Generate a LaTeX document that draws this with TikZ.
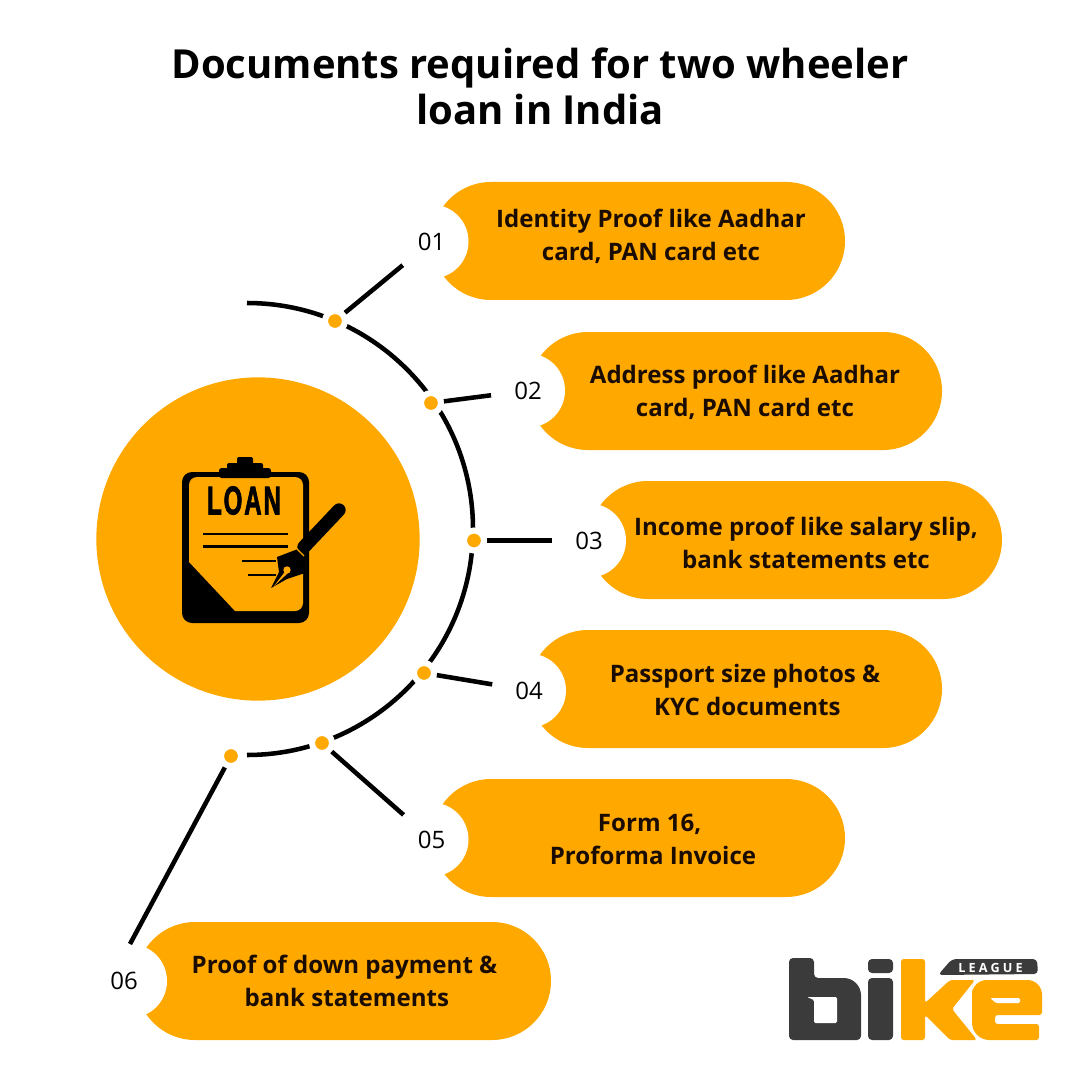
\documentclass[tikz,border=0pt]{standalone}
\usepackage{fontspec}
\setmainfont{Open Sans}
\newfontfamily\loanfont[LetterSpace=8,FakeBold=2.5]{Liberation Sans Bold}
\newfontfamily\leaguefont[LetterSpace=25]{Open Sans}
\usetikzlibrary{shapes.misc}
\definecolor{loanorange}{HTML}{FFA900}
\definecolor{loandark}{HTML}{1A0C00}
\definecolor{logodark}{HTML}{3B3B3B}
\tikzset{
	pill/.style={rounded rectangle,fill=loanorange,minimum height=88.5pt,inner sep=0pt,outer sep=0pt},
	notch/.style={circle,fill=white,minimum size=55.5pt,inner sep=0pt,font=\fontsize{18}{18}\selectfont},
	numtext/.style={inner sep=0pt,font=\fontsize{18}{18}\selectfont},
	pilltext/.style={align=center,text=loandark,font=\fontsize{18.05}{24.75}\selectfont\bfseries},
	dot/.style={circle,fill=loanorange,draw=white,line width=4.5pt,minimum size=15pt,inner sep=0pt},
	linkline/.style={line width=3.4pt,black}
}
\begin{document}
\begin{tikzpicture}[x=0.75pt,y=-0.75pt]
	\useasboundingbox (0,0) rectangle (1080,1080);
	\fill [white] (0,0) rectangle (1080,1080);
	% title
	\node [align=center,text=black,font=\fontsize{30}{34.5}\selectfont\bfseries] (title) at (540,86.5) {Documents required for two wheeler\\loan in India};
	% big circle and arc
	\node [circle,fill=loanorange,minimum size=242.5pt,inner sep=0pt] (hub) at (258,539) {};
	\draw [linkline] (247,303) arc [start angle=-90,end angle=90,radius=226];
	% dots
	\node [dot] (dot1) at (335,321) {};
	\node [dot] (dot2) at (431,403) {};
	\node [dot] (dot3) at (474,540.5) {};
	\node [dot] (dot4) at (424,673) {};
	\node [dot] (dot5) at (322,743) {};
	\node [dot] (dot6) at (231,756) {};
	% pills
	\node [pill,minimum width=309.75pt] (pill1) at (638.5,241) {};
	\node [pill,minimum width=309.75pt] (pill2) at (735.5,391) {};
	\node [pill,minimum width=309.75pt] (pill3) at (795.5,540) {};
	\node [pill,minimum width=309.75pt] (pill4) at (735.5,689) {};
	\node [pill,minimum width=309.75pt] (pill5) at (638.5,838) {};
	\node [pill,minimum width=311.25pt] (pill6) at (343.5,981) {};
	% number notches
	\node [notch] (num1) at (431.5,241.5) {01};
	\node [notch] (num2) at (528,390.5) {02};
	\node [notch] (num3) at (589,540.5) {03};
	\node [notch] (num4) at (529,690.5) {04};
	\node [notch] (num5) at (431.5,839.5) {05};
	\node [notch] (notch6) at (130,981) {};
	\node [numtext] (num6) at (124,981) {06};
	\coordinate (end6) at (130,944);
	% pill texts
	\node [pilltext] (text1) at (651,236) {Identity Proof like Aadhar\\card, PAN card etc};
	\node [pilltext] (text2) at (745,392) {Address proof like Aadhar\\card, PAN card etc};
	\node [pilltext] (text3) at (806,543) {Income proof like salary slip,\\bank statements etc};
	\node [pilltext] (text4) at (745,690) {Passport size photos \&\\\hspace*{3.5pt}KYC documents};
	\node [pilltext] (text5) at (653,839) {\hspace*{-5pt}Form 16,\\Proforma Invoice};
	\node [pilltext] (text6) at (344.5,981) {Proof of down payment \&\\\hspace*{3.5pt}bank statements};
	% connectors
	\draw [linkline] (dot1) -- (num1);
	\draw [linkline] (dot2) -- (num2);
	\draw [linkline] (dot3) -- (num3);
	\draw [linkline] (dot4) -- (num4);
	\draw [linkline] (dot5) -- (num5);
	\draw [linkline] (dot6) -- (end6);
	% clipboard
	\fill [black,rounded corners=7.5pt] (182,472) rectangle (309,623);
	\fill [loanorange,rounded corners=6pt] (189,562) [sharp corners] -- (189,530) [rounded corners=6pt] -- (189,477) -- (303,477) -- (303,611) [sharp corners] -- (235,611) -- cycle;
	\fill [black,rounded corners=1.5pt] (237,457) rectangle (253,466);
	\fill [black,rounded corners=1.5pt] (227,463) rectangle (263,472);
	\fill [black,rounded corners=2pt] (219,468) rectangle (271,478);
	\node [inner sep=0pt,xscale=0.6,font=\fontsize{30}{30}\selectfont\loanfont] (loan) at (244,500.5) {LOAN};
	\draw [black,line width=2.2pt] (203,534) -- (288,534);
	\draw [black,line width=2.2pt] (203,546.5) -- (288,546.5);
	\draw [black,line width=2pt] (242,561) -- (276,561);
	\draw [black,line width=2pt] (248,575) -- (276,575);
	% pen
	\draw [black,line width=10pt,line cap=round] (339,510) -- (304,547);
	\fill [black] (277,557) -- (298,549) -- (305,556) -- (305,573) -- (287,579) -- (271,588) -- (279,572) -- cycle;
	\draw [loanorange,line width=0.8pt] (297,549) -- (304,556);
	\fill [loanorange] (285.5,571) -- (288,573) -- (274,586) -- cycle;
	\fill [loanorange] (287,570) circle [radius=3.7];
	% logo
	\fill [logodark,rounded corners=3pt] (789,958) -- (814,958) -- (814,978) [rounded corners=13pt] -- (861,978) [rounded corners=3pt] -- (861,1040) -- (789,1040) -- cycle;
	\fill [white,rounded corners=1pt] (807,997) -- (837,997) -- (837,1023) -- (814,1023) -- (814,1000) -- cycle;
	\fill [logodark,rounded corners=3pt] (868,959) rectangle (893,973);
	\fill [logodark,rounded corners=3pt] (868,978) rectangle (893,1040);
	\fill [logodark,rounded corners=3pt] (938,975) -- (952,959) -- (1037,959) -- (1038,974) -- cycle;
	\node [inner sep=0pt,text=white,font=\fontsize{9.5}{9.5}\selectfont\leaguefont\bfseries] (league) at (990.5,968) {LEAGUE};
	\fill [loanorange,rounded corners=2pt] (901,959) -- (925,959) -- (925,1003) -- (950,980) -- (975,980) -- (952,1009) -- (977,1040) -- (950,1040) -- (925,1015) -- (925,1040) -- (901,1040) -- cycle;
	\fill [loanorange,rounded corners=11pt] (972,990) -- (972,980) -- (1042,980) [rounded corners=2pt] -- (1042,1015) -- (995,1015) -- (995,1024) -- (1039,1024) -- (1039,1040) [rounded corners=13pt] -- (972,1040) -- cycle;
	\fill [white,rounded corners=1pt] (990,998) -- (1020,998) -- (1020,1003) -- (996,1003) -- cycle;
\end{tikzpicture}
\end{document}
